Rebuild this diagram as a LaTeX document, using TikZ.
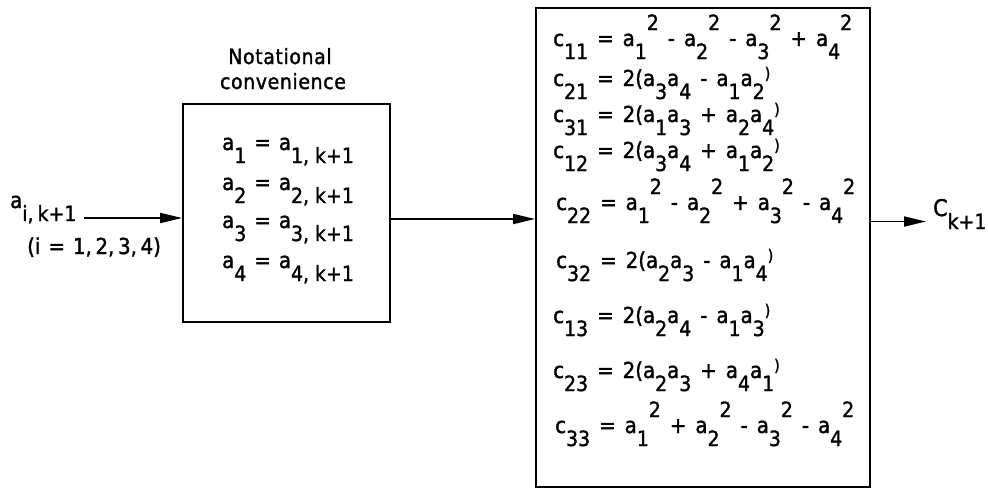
\documentclass[tikz,border=0pt]{standalone}
\usepackage{fontspec}
\setmainfont{DejaVu Sans Condensed}[BoldFont={DejaVu Sans Condensed},BoldFeatures={FakeBold=1.5}]
\newfontfamily\capfont{DejaVu Sans Condensed}[LetterSpace=3,BoldFont={DejaVu Sans Condensed},BoldFeatures={FakeBold=1.5,LetterSpace=3}]
\usetikzlibrary{arrows.meta}
% lowered subscript, raised superscript and small raised closing parenthesis
\newcommand\lo[1]{\raisebox{-13pt}{\fontsize{21}{21}\selectfont #1}}
\newcommand\hi[1]{\raisebox{16pt}{\fontsize{21}{21}\selectfont #1}}
\newcommand\rp{\raisebox{7pt}{\fontsize{16}{16}\selectfont )}}
\newcommand\ks{\hspace{6pt}}
\begin{document}
\begin{tikzpicture}[x=1pt,y=-1pt,
  eq/.style={anchor=base west,inner sep=0pt,
    font={\bfseries\fontsize{22}{22}\selectfont\spaceskip=9pt\relax}},
  caption/.style={anchor=base,inner sep=0pt,font={\capfont\bfseries\fontsize{21}{21}\selectfont}},
  frame/.style={draw,line width=1.8pt,inner sep=0pt},
  flow/.style={-{Triangle[length=22pt,width=10pt]},line width=1.8pt}]
\useasboundingbox (0,0) rectangle (988,490);

% the two boxes
\node[frame,minimum width=207pt,minimum height=218pt] (conv) at (286.5,213) {};
\node[frame,minimum width=334pt,minimum height=479pt] (mat) at (703,247.5) {};

% caption above the first box
\node[caption] (cap1) at (280,64) {Notational};
\node[caption] (cap2) at (283,89) {convenience};

% input quantities
\node[eq] (ain) at (10,208) {a\lo{i,\hspace{4pt}k+1}};
\node[eq] (irange) at (27,254) {\spaceskip=8pt\relax(i = 1,\,2,\,3,\,4)};

% renamed components
\node[eq] (a1) at (222,150) {\spaceskip=8pt\relax a\lo{1} = a\lo{1,\ks k+1}};
\node[eq] (a2) at (222,190) {\spaceskip=8pt\relax a\lo{2} = a\lo{2,\ks k+1}};
\node[eq] (a3) at (222,228) {\spaceskip=8pt\relax a\lo{3} = a\lo{3,\ks k+1}};
\node[eq] (a4) at (222,268) {\spaceskip=8pt\relax a\lo{4} = a\lo{4,\ks k+1}};

% direction cosine matrix elements
\node[eq] (c11) at (553,46)  {c\lo{11} = a\lo{1}\hi{2} - a\lo{2}\hi{2} - a\lo{3}\hi{2} + a\lo{4}\hi{2}};
\node[eq] (c21) at (553,86)  {c\lo{21} = 2(a\lo{3}a\lo{4} - a\lo{1}a\lo{2}\rp};
\node[eq] (c31) at (553,122) {c\lo{31} = 2(a\lo{1}a\lo{3} + a\lo{2}a\lo{4}\rp};
\node[eq] (c12) at (553,158) {c\lo{12} = 2(a\lo{3}a\lo{4} + a\lo{1}a\lo{2}\rp};
\node[eq] (c22) at (556,210) {c\lo{22} = a\lo{1}\hi{2} - a\lo{2}\hi{2} + a\lo{3}\hi{2} - a\lo{4}\hi{2}};
\node[eq] (c32) at (556,268) {c\lo{32} = 2(a\lo{2}a\lo{3} - a\lo{1}a\lo{4}\rp};
\node[eq] (c13) at (553,323) {c\lo{13} = 2(a\lo{2}a\lo{4} - a\lo{1}a\lo{3}\rp};
\node[eq] (c23) at (553,378) {c\lo{23} = 2(a\lo{2}a\lo{3} + a\lo{4}a\lo{1}\rp};
\node[eq] (c33) at (555,433) {c\lo{33} = a\lo{1}\hi{2} + a\lo{2}\hi{2} - a\lo{3}\hi{2} - a\lo{4}\hi{2}};

% output
\node[eq] (cout) at (933,216) {\fontsize{23}{23}\selectfont C\lo{k+1}};

% connectors
\coordinate (inp) at (84,218);
\draw[flow] (inp) -- (inp -| conv.west);
\draw[flow] ([yshift=-6pt]conv.east) coordinate (m1) -- (m1 -| mat.west);
\draw[flow] ([yshift=26pt]mat.east) coordinate (m2) -- ([xshift=-7pt]m2 -| cout.west);
\end{tikzpicture}
\end{document}
